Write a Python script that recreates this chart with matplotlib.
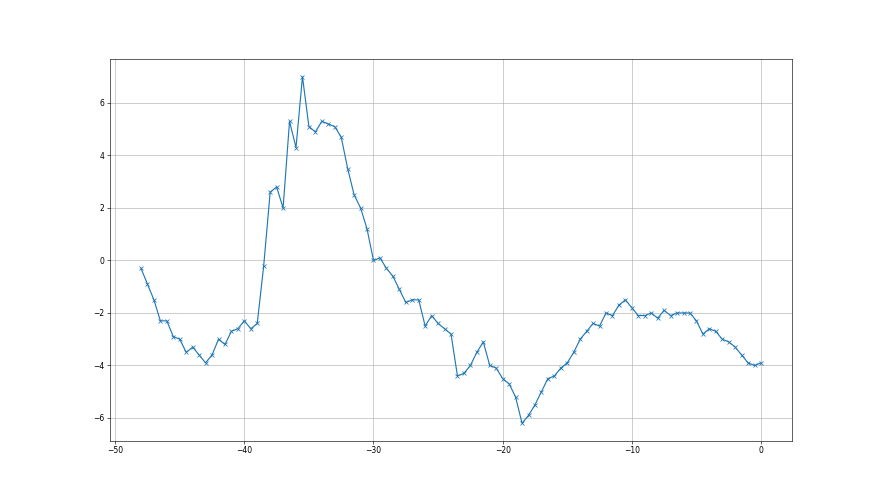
import numpy as np
from matplotlib import pyplot as plt

# x positions, every half step from -48 to 0
x = np.arange(-48, 0.01, 0.5)

# values
y = [-0.3, -0.9, -1.5, -2.3, -2.3, -2.9, -3.0, -3.5, -3.3, -3.6,
     -3.9, -3.6, -3.0, -3.2, -2.7, -2.6, -2.3, -2.6, -2.4, -0.2,
     2.6, 2.8, 2.0, 5.3, 4.3, 7.0, 5.1, 4.9, 5.3, 5.2,
     5.1, 4.7, 3.5, 2.5, 2.0, 1.2, 0.0, 0.1, -0.3, -0.6,
     -1.1, -1.6, -1.5, -1.5, -2.5, -2.1, -2.4, -2.6, -2.8, -4.4,
     -4.3, -4.0, -3.5, -3.1, -4.0, -4.1, -4.5, -4.7, -5.2, -6.2,
     -5.9, -5.5, -5.0, -4.5, -4.4, -4.1, -3.9, -3.5, -3.0, -2.7,
     -2.4, -2.5, -2.0, -2.1, -1.7, -1.5, -1.8, -2.1, -2.1, -2.0,
     -2.2, -1.9, -2.1, -2.0, -2.0, -2.0, -2.3, -2.8, -2.6, -2.7,
     -3.0, -3.1, -3.3, -3.6, -3.9, -4.0, -3.9]

fig = plt.figure(figsize=(16, 9), dpi=55)
plt.plot(x, y, marker='x')
plt.grid(True)

plt.savefig('out.png', dpi=55)
